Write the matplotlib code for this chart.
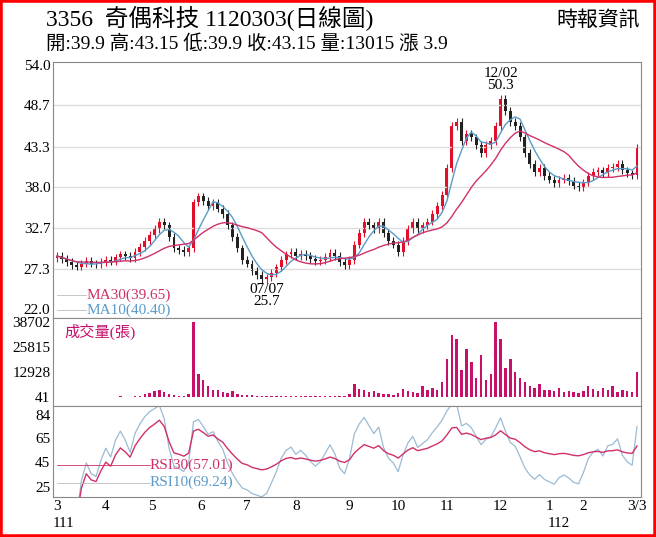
import numpy as np
import pandas as pd
import matplotlib.pyplot as plt
from matplotlib.patches import Rectangle

# two-day candles, Mar 2022 .. 2023/03/03
close = [29.0, 28.6, 28.2, 27.8, 27.6, 28.0, 28.3, 28.0, 27.9, 28.2,
         28.5, 28.3, 28.8, 29.2, 29.0, 28.7, 29.5, 30.2, 31.0, 31.8,
         32.5, 33.5, 33.0, 31.5, 30.0, 29.8, 29.5, 30.0, 36.0, 36.8,
         36.2, 35.5, 36.0, 35.2, 34.5, 33.0, 31.5, 30.0, 28.5, 28.0,
         27.0, 26.5, 26.0, 26.2, 26.8, 27.5, 28.5, 29.2, 29.5, 29.0,
         29.3, 29.0, 28.6, 28.3, 28.5, 28.9, 29.4, 29.0, 28.2, 27.8,
         28.5, 30.5, 32.0, 33.5, 33.0, 32.5, 33.5, 32.0, 31.0, 30.5,
         29.5, 31.0, 32.5, 33.5, 32.5, 33.0, 33.5, 34.5, 35.5, 37.0,
         40.5, 46.0, 46.5, 44.0, 45.0, 44.5, 43.5, 42.5, 43.5, 44.0,
         46.0, 49.5, 48.0, 46.5, 46.0, 44.5, 42.5, 41.0, 40.0, 40.5,
         39.5, 39.0, 38.5, 39.0, 39.2, 38.8, 38.2, 38.0, 38.6, 39.5,
         40.0, 40.2, 39.8, 40.5, 40.6, 41.0, 40.2, 39.8, 39.6, 43.15]
volume = [300, 250, 200, 250, 300, 280, 250, 300, 260, 280,
          300, 280, 350, 400, 300, 280, 500, 900, 1500, 2000,
          3000, 3500, 2500, 1800, 1200, 800, 700, 1500, 38702, 12000,
          9000, 6000, 4000, 3500, 2500, 2000, 3000, 1500, 1200, 1000,
          1200, 800, 900, 700, 600, 800, 900, 700, 600, 500,
          600, 500, 700, 500, 400, 600, 500, 600, 500, 400,
          1500, 7000, 4500, 3500, 2500, 3000, 2000, 1800, 1500, 1200,
          2000, 4500, 3000, 2500, 2000, 6000, 3500, 5000, 4000, 8000,
          20000, 32000, 30000, 14000, 25000, 18000, 10000, 22000, 9000, 12000,
          38702, 30000, 15000, 20000, 13000, 10000, 8000, 6000, 5000, 7000,
          4000, 3500, 3000, 5000, 2500, 3000, 2500, 2000, 3000, 6000,
          4500, 3000, 5000, 3500, 6000, 2500, 4000, 3000, 2500, 13015]
month_pos = [0, 10, 19.5, 29.5, 39, 49, 60, 70, 80, 91, 101, 108, 119]
month_lbl = ['3', '4', '5', '6', '7', '8', '9', '10', '11', '12', '1', '2', '3/3']
price_ticks = [22.0, 27.3, 32.7, 38.0, 43.3, 48.7, 54.0]
vol_ticks = [41, 12928, 25815, 38702]
rsi_ticks = [25, 45, 65, 84]

FONT = ['Liberation Serif', 'Noto Sans CJK TC']
plt.rcParams['font.family'] = FONT

c = pd.Series(close)
o = c.shift(1).fillna(c.iloc[0] - 0.3)
x = np.arange(len(c))
ma10 = c.rolling(5, min_periods=1).mean()
ma30 = c.rolling(15, min_periods=1).mean()

def rsi(s, n):
    d = s.diff().fillna(0)
    up = d.clip(lower=0).ewm(alpha=1/n).mean()
    dn = (-d.clip(upper=0)).ewm(alpha=1/n).mean()
    return 100 * up / (up + dn + 1e-9)

rsi10 = rsi(c, 7)
rsi30 = rsi(c, 30)

fig = plt.figure(figsize=(6.56, 5.37), dpi=100)
fig.patches.append(Rectangle((0, 0), 1, 1, transform=fig.transFigure,
                             fill=False, edgecolor='red', linewidth=4))
L, W = 0.081, 0.896
ax1 = fig.add_axes([L, 0.408, W, 0.477])
ax2 = fig.add_axes([L, 0.244, W, 0.164], sharex=ax1)
ax3 = fig.add_axes([L, 0.075, W, 0.169], sharex=ax1)

for ax in (ax1, ax2, ax3):
    for sp in ax.spines.values():
        sp.set_color('#888888')
    ax.tick_params(length=0, labelsize=11, pad=2)

# price
for yt in price_ticks[1:-1]:
    ax1.axhline(yt, color='#dddddd', lw=1)
for i in x:
    up = c[i] >= o[i]
    col = '#e0102a' if up else '#222222'
    lo, hi = min(c[i], o[i]), max(c[i], o[i])
    ax1.vlines(i, lo - 0.5, hi + 0.5, color=col, lw=0.8)
    ax1.bar(i, max(hi - lo, 0.1), bottom=lo, width=0.6, color=col)
ax1.plot(x, ma10, color='#5a9bc8', lw=1)
ax1.plot(x, ma30, color='#d0306a', lw=1)
ax1.set_ylim(20.9, 54.4)
ax1.set_yticks(price_ticks)
ax1.set_yticklabels([f'{v:.1f}' for v in price_ticks])
ax1.set_xlim(-0.8, len(c) - 0.2)
ax1.tick_params(labelbottom=False)
ax1.text(91, 50.5, '12/02\n50.3', ha='center', va='bottom', fontsize=11, linespacing=0.9)
ax1.text(43, 25.4, '07/07\n25.7', ha='center', va='top', fontsize=11, linespacing=0.9)
ax1.plot([0, 6], [23.9, 23.9], color='#bbbbbb', lw=0.6)
ax1.text(6, 23.9, 'MA30(39.65)', color='#d0306a', va='center', fontsize=11)
ax1.plot([0, 6], [21.9, 21.9], color='#bbbbbb', lw=0.6)
ax1.text(6, 21.9, 'MA10(40.40)', color='#5a9bc8', va='center', fontsize=11)

# volume
ax2.bar(x, volume, width=0.5, color='#c8106a')
ax2.set_ylim(-4500, 41000)
ax2.set_yticks(vol_ticks)
ax2.set_yticklabels([str(v) for v in vol_ticks])
ax2.tick_params(labelbottom=False)
ax2.text(0.02, 0.93, '成交量(張)', transform=ax2.transAxes, color='#c8106a',
         va='top', fontsize=11)

# rsi
ax3.plot(x, rsi10, color='#9bbbd4', lw=0.9)
ax3.plot(x, rsi30, color='#d0306a', lw=1)
ax3.set_ylim(17, 91)
ax3.set_yticks(rsi_ticks)
ax3.set_xticks(month_pos)
ax3.set_xticklabels(month_lbl)
ax3.tick_params(axis='x', labelsize=11)
ax3.plot([0, 19], [42.5, 42.5], color='#d0306a', lw=0.6)
ax3.text(19, 42.5, 'RSI30(57.01)', color='#d0306a', va='center', fontsize=11)
ax3.plot([0, 19], [28.5, 28.5], color='#bbbbbb', lw=0.6)
ax3.text(19, 28.5, 'RSI10(69.24)', color='#5a9bc8', va='center', fontsize=11)

fig.text(0.08, 0.018, '111', fontsize=11)
fig.text(0.835, 0.018, '112', fontsize=11)
fig.text(0.07, 0.952, '3356  奇偶科技 1120303(日線圖)', fontsize=17)
fig.text(0.07, 0.91, '開:39.9 高:43.15 低:39.9 收:43.15 量:13015 漲 3.9', fontsize=14)
fig.text(0.975, 0.952, '時報資訊', fontsize=15, ha='right')

fig.savefig('out.png', dpi=100)
